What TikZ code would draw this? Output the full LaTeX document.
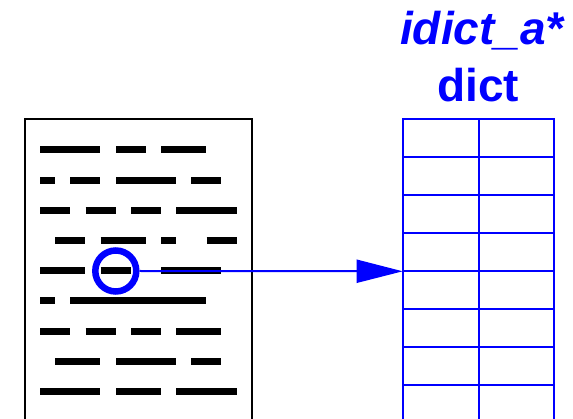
\documentclass[tikz,border=0pt]{standalone}
\usepackage{fontspec}
\setmainfont{Liberation Sans}
\usetikzlibrary{arrows.meta}
\definecolor{pureblue}{RGB}{0,0,255}
\tikzset{
  dashline/.style={line width=7pt, line cap=butt},
  docbox/.style={line width=2pt},
  tabline/.style={draw=pureblue, line width=2pt},
  ring/.style={circle, draw=pureblue, line width=6.5pt, minimum size=41pt, inner sep=0pt},
  link/.style={draw=pureblue, line width=2pt, -{Triangle[length=46pt,width=23pt]}},
  title/.style={text=pureblue, font=\fontsize{46}{50}\selectfont\bfseries, anchor=base, inner sep=0pt}
}
\begin{document}
\begin{tikzpicture}[x=1pt,y=-1pt]
\useasboundingbox (0,0) rectangle (573,419);
% document
\draw[docbox] (24.7,430) -- (24.7,119.3) -- (251.7,119.3) -- (251.7,430);
% dashes
\foreach \y/\segs in {
  150/{40/100.3,116/146,161.3/206.3},
  180.3/{40/55.3,70.3/100.3,116/176,191.3/221.3},
  210.3/{40/70.3,85.7/115.7,131/161,176.3/236.7},
  240.7/{55.3/85.3,100.7/146,161.3/176.3,206.7/236.7},
  271/{40/85.3,100.7/131,161.3/221.3},
  301/{40/55.3,70.3/206.3},
  331.3/{40/70.3,85.7/115.7,131/161,176.3/221.3},
  361.3/{55.3/100.3,116/176,191.3/221.3},
  391.7/{40/100.3,116/161,176.3/236.7}}{
  \foreach \a/\b in \segs { \draw[dashline] (\a,\y) -- (\b,\y); }
}
% table
\foreach \yy in {157.3,195.3,233.3,271.3,309.3,347.3,385.3}{
  \draw[tabline] (402.7,\yy) -- (554,\yy);
}
\draw[tabline] (402.7,430) -- (402.7,119.3) -- (554,119.3) -- (554,430);
\draw[tabline] (478.6,119.3) -- (478.6,430);
\coordinate (t) at (402.7,271.3);
% titles
\node[title, font=\fontsize{46}{50}\selectfont\bfseries\itshape] (name) at (482,44.5) {idict\_a*};
\node[title] (kind) at (478.4,102) {dict};
% pointer
\node[ring] (c) at (115.8,271) {};
\draw[link] (c.east) -- (t);
\end{tikzpicture}
\end{document}
